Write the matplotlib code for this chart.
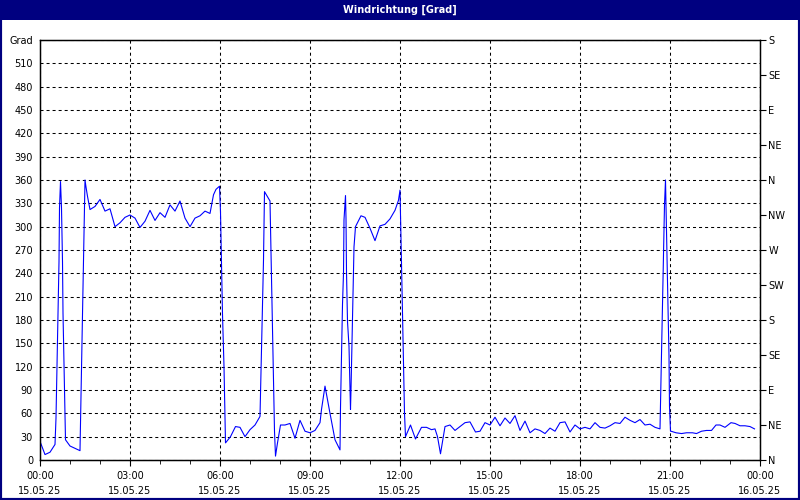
import matplotlib
matplotlib.use("Agg")
import matplotlib.pyplot as plt
from matplotlib.patches import Rectangle

# wind direction, time in minutes after 15.05.25 00:00
minutes = [0, 10, 20, 30, 32, 34, 36, 38, 39, 41, 43, 45, 46, 48, 50, 51, 60, 70, 80,
           81, 83, 85, 87, 89, 90, 92, 95, 100, 110, 120, 130, 140, 150, 160, 170, 180,
           190, 200, 210, 220, 230, 240, 250, 260, 270, 280, 290, 300, 310, 320, 330,
           340, 347, 352, 359, 361, 363, 365, 368, 370, 371, 381, 391, 400, 410, 420,
           430, 440, 441, 443, 445, 447, 449, 460, 461, 463, 465, 467, 469, 471, 475,
           481, 490, 500, 510, 520, 530, 540, 550, 560, 563, 570, 580, 590, 600, 601,
           603, 605, 607, 608, 611, 612, 613, 615, 618, 620, 621, 622, 625, 628, 631,
           642, 650, 660, 670, 680, 690, 700, 710, 717, 720, 721, 723, 725, 727, 729,
           731, 741, 751, 763, 773, 783, 790, 795, 801, 810, 820, 830, 840, 850, 860,
           871, 880, 890, 900, 910, 920, 930, 940, 950, 960, 970, 980, 990, 1000, 1010,
           1020, 1030, 1040, 1050, 1060, 1070, 1080, 1090, 1100, 1110, 1120, 1130, 1140,
           1150, 1160, 1170, 1180, 1190, 1200, 1210, 1220, 1230, 1240, 1241, 1243, 1245,
           1247, 1249, 1251, 1252, 1254, 1256, 1258, 1259, 1261, 1262, 1272, 1283, 1293,
           1305, 1313, 1323, 1333, 1343, 1352, 1360, 1370, 1382, 1390, 1400, 1410, 1420,
           1429]
grad = [24, 7, 10, 20, 54, 120, 189, 255, 324, 358, 324, 255, 189, 120, 58, 26, 18, 15, 12,
        48, 116, 187, 255, 324, 360, 351, 339, 322, 326, 335, 320, 323, 300, 305, 312, 315,
        311, 299, 307, 321, 308, 318, 312, 328, 320, 333, 311, 300, 311, 314, 320,
        317, 341, 348, 352, 319, 253, 187, 120, 54, 22, 30, 43, 42, 30, 39,
        45, 56, 84, 142, 202, 257, 345, 333, 300, 236, 170, 103, 37, 5, 22,
        45, 45, 47, 28, 51, 37, 35, 38, 48, 65, 95, 60, 26, 13, 67,
        133, 200, 240, 309, 340, 311, 242, 178, 146, 90, 65, 90, 185, 274, 300,
        314, 312, 298, 282, 301, 303, 310, 321, 334, 347, 317, 253, 189, 122, 60,
        30, 45, 27, 42, 42, 39, 40, 30, 8, 43, 45, 38, 43, 48, 49,
        36, 37, 48, 45, 55, 44, 54, 47, 57, 38, 50, 35, 40, 38, 34,
        41, 37, 48, 49, 36, 45, 40, 42, 40, 48, 42, 41, 44,
        48, 47, 55, 51, 48, 52, 45, 46, 42, 40, 71, 135, 200,
        264, 328, 360, 326, 262, 197, 133, 69, 37, 37, 35, 34, 35,
        35, 34, 37, 38, 38, 45, 45, 42, 48, 47, 44, 44, 43,
        40]

time_ticks = list(range(0, 1441, 180))
time_labels = ["00:00\n15.05.25", "03:00\n15.05.25", "06:00\n15.05.25", "09:00\n15.05.25",
               "12:00\n15.05.25", "15:00\n15.05.25", "18:00\n15.05.25", "21:00\n15.05.25",
               "00:00\n16.05.25"]
grad_ticks = list(range(0, 541, 30))
grad_labels = [str(v) for v in range(0, 511, 30)] + ["Grad"]
compass_ticks = list(range(0, 541, 45))
compass_labels = ["N", "NE", "E", "SE", "S", "SW", "W", "NW", "N", "NE", "E", "SE", "S"]

plt.rcParams["font.family"] = "DejaVu Sans"
plt.rcParams["font.size"] = 7

navy = "#000080"
fig = plt.figure(figsize=(8, 5), dpi=100)
fig.patch.set_facecolor("white")
fig.patches.append(Rectangle((0, 0.96), 1, 0.04, transform=fig.transFigure,
                             facecolor=navy, edgecolor="none"))
fig.patches.append(Rectangle((0, 0), 1, 1, transform=fig.transFigure, fill=False,
                             edgecolor=navy, linewidth=3))
fig.text(0.5, 0.98, "Windrichtung [Grad]", color="white", fontweight="bold",
         ha="center", va="center")

ax = fig.add_axes([0.05, 0.08, 0.9, 0.84])
ax.plot(minutes, grad, color="#0000ff", linewidth=0.8)
ax.set_xlim(0, 1440)
ax.set_ylim(0, 540)

ax.set_xticks(time_ticks)
ax.set_xticklabels(time_labels, linespacing=1.6)
ax.set_xticks(range(0, 1441, 60), minor=True)
ax.set_yticks(grad_ticks)
ax.set_yticklabels(grad_labels)
ax.tick_params(axis="y", length=0, pad=5)
ax.tick_params(axis="x", which="major", length=4, direction="out", pad=4)
ax.tick_params(axis="x", which="minor", length=3, direction="out")

ax.grid(True, color="black", linestyle=(0, (2.9, 2.9)), linewidth=0.75)
ax.set_axisbelow(True)
for s in ax.spines.values():
    s.set_color("black")
    s.set_linewidth(1)

ax2 = ax.twinx()
ax2.set_ylim(0, 540)
ax2.set_yticks(compass_ticks)
ax2.set_yticklabels(compass_labels)
ax2.tick_params(axis="y", length=4, direction="out", pad=2)

fig.savefig("out.png", dpi=100, facecolor=fig.get_facecolor())
